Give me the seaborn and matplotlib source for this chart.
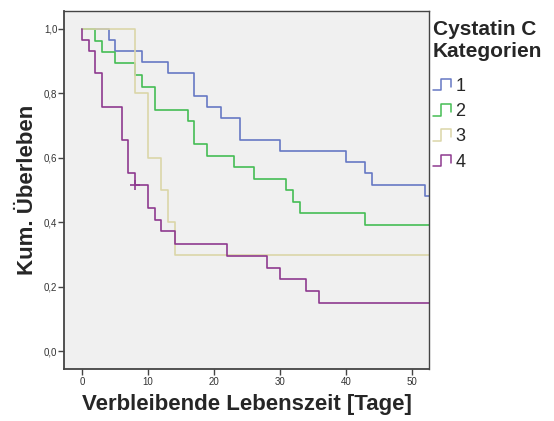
import matplotlib
matplotlib.use("Agg")
import matplotlib.pyplot as plt
import seaborn as sns
import pandas as pd
import numpy as np
from matplotlib.lines import Line2D
from matplotlib.legend_handler import HandlerBase

# ---- data ----
groups = ["1", "2", "3", "4"]
t1 = [0, 4, 5, 9, 13, 17, 19, 21, 24, 30, 40, 43, 44, 52, 60]
s1 = [1.0, 0.966, 0.931, 0.897, 0.862, 0.793, 0.759, 0.724, 0.655, 0.621, 0.586, 0.552, 0.517, 0.483, 0.483]
t2 = [0, 2, 3, 5, 8, 9, 11, 16, 17, 19, 23, 26, 31, 32, 33, 43, 60]
s2 = [1.0, 0.964, 0.929, 0.893, 0.857, 0.821, 0.750, 0.714, 0.643, 0.607, 0.571, 0.536, 0.500, 0.464, 0.429, 0.393, 0.393]
t3 = [0, 8, 10, 12, 13, 14, 60]
s3 = [1.0, 0.8, 0.6, 0.5, 0.4, 0.3, 0.3]
t4 = [0, 0, 1, 2, 3, 6, 7, 8, 10, 11, 12, 14, 22, 28, 30, 34, 36, 60]
s4 = [1.0, 0.966, 0.931, 0.862, 0.759, 0.655, 0.552, 0.517, 0.445, 0.408, 0.372, 0.333, 0.297, 0.260, 0.223, 0.186, 0.149, 0.149]
cens_t = [8]
cens_s = [0.517]
cens_g = ["4"]

xticks = [0, 10, 20, 30, 40, 50]
yticks = [0.0, 0.2, 0.4, 0.6, 0.8, 1.0]
yticklabels = ["0,0", "0,2", "0,4", "0,6", "0,8", "1,0"]

colors = {"1": "#6678c4", "2": "#45bd54", "3": "#dbd6a8", "4": "#8e3a8f"}

rows = []
for g, tt, ss in zip(groups, [t1, t2, t3, t4], [s1, s2, s3, s4]):
    for t, s in zip(tt, ss):
        rows.append({"Zeit": t, "Surv": s, "Gruppe": g})
df = pd.DataFrame(rows)
cens_df = pd.DataFrame({"Zeit": cens_t, "Surv": cens_s, "Gruppe": cens_g})

sns.set_theme(style="white")
plt.rcParams["font.family"] = ["Liberation Sans", "DejaVu Sans"]

fig = plt.figure(figsize=(5.54, 4.21), dpi=100)
ax = fig.add_axes([0.116, 0.124, 0.659, 0.851])
ax.set_facecolor("#f0f0f0")

sns.lineplot(data=df, x="Zeit", y="Surv", hue="Gruppe", palette=colors,
             estimator=None, sort=False, drawstyle="steps-post",
             linewidth=1.2, legend=False, ax=ax)
sns.scatterplot(data=cens_df, x="Zeit", y="Surv", hue="Gruppe", palette=colors,
                marker="+", s=45, linewidth=1.2, legend=False, ax=ax)

ax.set_xlim(-2.74, 52.7)
ax.set_ylim(-0.054, 1.057)
ax.set_xticks(xticks)
ax.set_xticklabels([str(x) for x in xticks])
ax.set_yticks(yticks)
ax.set_yticklabels(yticklabels)
ax.tick_params(axis="both", direction="out", length=4, width=1.0, color="#444444",
               labelsize=7, labelcolor="#333333", pad=2, left=True, bottom=True)
ax.tick_params(axis="y", pad=1)

for name, sp in ax.spines.items():
    sp.set_color("#444444")
    sp.set_linewidth(1.0)
ax.spines["left"].set_linewidth(1.3)
ax.spines["bottom"].set_linewidth(1.3)

ax.set_xlabel("Verbleibende Lebenszeit [Tage]", fontsize=16, fontweight="bold", labelpad=5)
ax.set_ylabel("Kum. Überleben", fontsize=16, fontweight="bold", labelpad=4)


class StepHandler(HandlerBase):
    def create_artists(self, legend, orig_handle, xdescent, ydescent, width, height, fontsize, trans):
        x0 = -xdescent
        y0 = -ydescent
        xs = [x0, x0 + 0.42 * width, x0 + 0.42 * width, x0 + 0.9 * width, x0 + 0.9 * width]
        ys = [y0 + 0.0 * height, y0 + 0.0 * height, y0 + 1.0 * height, y0 + 1.0 * height, y0 + 0.3 * height]
        ln = Line2D(xs, ys, color=orig_handle.get_color(), linewidth=1.1, transform=trans)
        return [ln]


handles = [Line2D([], [], color=colors[g]) for g in groups]
leg = fig.legend(handles, groups, title="Cystatin C\nKategorien",
                 handler_map={Line2D: StepHandler()},
                 loc="upper left", bbox_to_anchor=(0.781, 0.952), frameon=False,
                 fontsize=13, title_fontproperties={"weight": "bold", "size": 15},
                 handlelength=1.15, handleheight=0.6, handletextpad=0.1,
                 labelspacing=0.46, borderpad=0, borderaxespad=0)
leg._legend_box.align = "left"
leg._legend_box.sep = 12

fig.savefig("out.png", dpi=100)
